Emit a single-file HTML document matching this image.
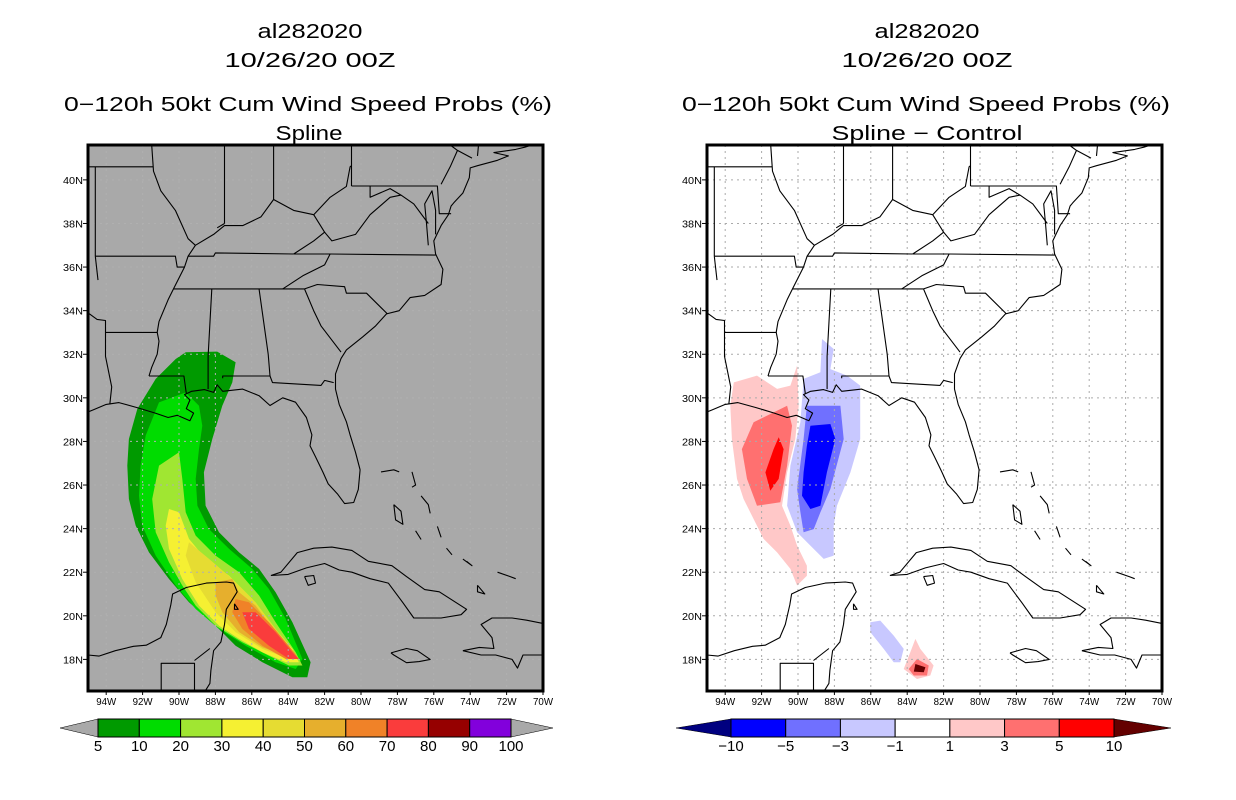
<!DOCTYPE html>
<html><head><meta charset="utf-8"><style>
html,body{margin:0;padding:0;background:#fff;}
svg{display:block;font-family:"Liberation Sans",sans-serif;}
</style></head><body>
<svg id="root" width="1236" height="800" viewBox="0 0 1236 800" xmlns="http://www.w3.org/2000/svg">
<defs>
<clipPath id="clipL"><rect x="88" y="145" width="455" height="546"/></clipPath>
<clipPath id="clipR"><rect x="707" y="145" width="455" height="546"/></clipPath>
</defs>
<g font-size="20" text-anchor="middle" fill="#000">
<text x="310" y="38" textLength="105" lengthAdjust="spacingAndGlyphs">al282020</text>
<text x="310" y="67" textLength="171" lengthAdjust="spacingAndGlyphs">10/26/20 00Z</text>
<text x="308" y="111" textLength="488" lengthAdjust="spacingAndGlyphs">0−120h 50kt Cum Wind Speed Probs (%)</text>
<text x="309" y="140" textLength="67" lengthAdjust="spacingAndGlyphs">Spline</text>
</g>
<g font-size="20" text-anchor="middle" fill="#000">
<text x="927" y="38" textLength="105" lengthAdjust="spacingAndGlyphs">al282020</text>
<text x="927" y="67" textLength="171" lengthAdjust="spacingAndGlyphs">10/26/20 00Z</text>
<text x="926" y="111" textLength="488" lengthAdjust="spacingAndGlyphs">0−120h 50kt Cum Wind Speed Probs (%)</text>
<text x="927" y="140" textLength="191" lengthAdjust="spacingAndGlyphs">Spline − Control</text>
</g>
<g id="panelL"></g>
<g id="panelR"></g>
<g id="cbarL"></g>
<g id="cbarR"></g>
</svg>
<script>
// ---- data ----
const lonTicks = [-94,-92,-90,-88,-86,-84,-82,-80,-78,-76,-74,-72,-70];
const latTicks = [18,20,22,24,26,28,30,32,34,36,38,40];
const probLevels = [5,10,20,30,40,50,60,70];
const probColors = ["#009a00","#00dc00","#a0e632","#f5f032","#e6dc32","#e6af2d","#f08228","#fa3c3c"];
const probPolys = [
 [[-89.63,32.09],[-87.90,32.12],[-86.89,31.63],[-87.07,30.71],[-87.62,29.64],[-88.17,28.11],[-88.63,26.58],[-88.54,25.05],[-87.80,23.83],[-86.70,22.91],[-85.60,22.15],[-84.69,21.08],[-83.77,19.70],[-82.77,17.87],[-82.95,17.18],[-83.77,17.18],[-85.42,17.87],[-86.89,18.63],[-87.99,19.55],[-89.45,20.62],[-90.55,21.69],[-91.65,22.91],[-92.38,24.14],[-92.75,25.36],[-92.84,26.89],[-92.75,28.11],[-92.29,29.49],[-91.28,30.87],[-90.18,31.78]],
 [[-91.10,29.79],[-89.63,30.25],[-88.90,29.64],[-88.72,28.72],[-88.90,27.65],[-89.08,26.28],[-88.99,25.05],[-88.35,23.98],[-87.25,23.07],[-85.97,22.15],[-85.06,21.23],[-84.14,19.86],[-83.22,18.02],[-83.59,17.56],[-84.69,17.87],[-86.34,18.63],[-87.80,19.40],[-89.08,20.31],[-90.18,21.39],[-91.28,22.76],[-92.02,24.14],[-92.20,25.51],[-92.11,26.89],[-91.83,28.27]],
 [[-91.10,26.89],[-90.00,27.50],[-89.82,26.28],[-89.63,24.75],[-89.08,23.68],[-87.99,22.76],[-86.70,22.00],[-85.60,20.93],[-84.69,19.70],[-83.59,18.33],[-83.22,17.72],[-83.96,17.72],[-85.06,18.17],[-86.52,18.79],[-87.99,19.55],[-89.08,20.47],[-89.82,21.39],[-90.55,22.46],[-91.28,23.83],[-91.47,25.36]],
 [[-90.55,24.90],[-90.00,24.75],[-89.45,23.53],[-88.54,22.61],[-87.25,21.84],[-85.97,20.77],[-84.87,19.55],[-83.77,18.48],[-83.41,17.87],[-84.14,17.87],[-85.42,18.33],[-86.70,18.94],[-87.80,19.55],[-88.90,20.47],[-89.82,21.69],[-90.55,23.07],[-90.73,24.14]],
 [[-89.45,23.37],[-88.35,22.61],[-87.07,21.69],[-85.79,20.62],[-84.69,19.40],[-83.59,18.17],[-83.96,18.02],[-85.42,18.48],[-86.89,19.25],[-87.99,20.16],[-89.08,21.54],[-89.63,22.76]],
 [[-87.99,21.54],[-87.07,21.69],[-86.70,21.08],[-85.79,20.47],[-84.69,19.25],[-83.59,18.25],[-83.96,18.10],[-85.42,18.56],[-86.70,19.25],[-87.62,20.16],[-87.99,20.93]],
 [[-86.89,20.77],[-86.16,20.62],[-85.06,19.70],[-83.96,18.63],[-83.41,18.02],[-84.14,18.02],[-85.42,18.63],[-86.52,19.40],[-87.07,20.16]],
 [[-86.52,20.16],[-85.79,20.16],[-84.69,19.25],[-83.77,18.33],[-83.41,18.02],[-83.96,18.02],[-85.06,18.63],[-86.16,19.40]]
];
const diffLevels = [-10,-5,-3,-1,1,3,5,10];
const diffColors = ["#0000ff","#7070ff","#c8c8ff","#ffffff","#ffc8c8","#ff7070","#ff0000"];
const diffPolyValues = [2, -2, 4, -4, 6, -6, -2, 2, 4, 12];
const diffPolys = [
 [[-93.53,30.71],[-92.25,31.02],[-91.15,30.41],[-90.42,30.56],[-90.05,31.48],[-89.96,29.64],[-90.15,28.11],[-90.60,26.58],[-90.88,25.05],[-90.42,24.14],[-90.05,23.22],[-89.51,22.30],[-89.51,21.84],[-90.05,21.39],[-90.42,22.15],[-91.15,22.91],[-91.89,23.53],[-92.44,24.44],[-92.99,25.36],[-93.35,26.28],[-93.63,28.11],[-93.72,29.64]],
 [[-88.68,32.70],[-88.04,32.24],[-88.22,31.32],[-87.31,31.02],[-86.58,30.56],[-86.58,28.11],[-87.12,26.58],[-87.86,25.05],[-88.04,24.14],[-88.04,22.76],[-88.59,22.61],[-89.32,23.22],[-90.05,23.83],[-90.60,25.05],[-90.42,26.89],[-89.87,28.88],[-89.69,30.87],[-88.77,31.17]],
 [[-92.44,28.88],[-90.60,29.64],[-90.33,28.72],[-90.60,26.89],[-90.97,25.21],[-92.25,25.05],[-92.80,26.28],[-93.08,27.65]],
 [[-89.51,29.64],[-87.67,29.64],[-87.49,28.11],[-88.22,25.82],[-88.77,24.75],[-89.14,23.98],[-89.69,23.83],[-89.87,24.75],[-90.05,25.82],[-89.69,28.11]],
 [[-91.06,28.19],[-90.79,27.65],[-91.06,26.28],[-91.52,25.74],[-91.79,26.58],[-91.34,27.65]],
 [[-89.32,28.72],[-88.22,28.80],[-87.95,28.11],[-88.41,26.58],[-88.77,25.05],[-89.32,24.90],[-89.78,25.51],[-89.69,26.58],[-89.51,27.81]],
 [[-86.03,19.70],[-85.48,19.78],[-84.74,19.09],[-84.19,18.48],[-84.38,17.87],[-84.74,17.87],[-85.29,18.48],[-86.03,19.25]],
 [[-83.55,18.94],[-83.28,18.48],[-82.55,17.72],[-82.73,17.26],[-83.46,17.10],[-84.19,17.56],[-83.83,18.33]],
 [[-83.46,18.02],[-82.82,17.72],[-82.91,17.26],[-83.64,17.26],[-83.92,17.56]],
 [[-83.55,17.79],[-83.00,17.64],[-83.09,17.41],[-83.64,17.44]]
];
const coastLines = [
 [[-95,29.35],[-94.7,29.45],[-94,29.7],[-93.3,29.78],[-92.3,29.55],[-91.3,29.3],[-90.6,29.1],[-90.1,29.2],[-89.4,28.95],[-89.2,29.3],[-89.6,29.5],[-89.4,29.9],[-89.7,30.15],[-89.3,30.3],[-88.6,30.38],[-88.1,30.25],[-87.9,30.6],[-87.6,30.3],[-86.5,30.4],[-85.6,30.1],[-85.0,29.65],[-84.3,30.0],[-83.6,29.8],[-83.0,29.1],[-82.7,28.3],[-82.8,27.8],[-82.5,27.3],[-82.1,26.6],[-81.8,26.05],[-81.3,25.6],[-80.9,25.15],[-80.4,25.2],[-80.15,25.8],[-80.05,26.7],[-80.3,27.5],[-80.6,28.3],[-80.8,28.9],[-81.2,29.7],[-81.4,30.4],[-81.4,31.1],[-81.1,31.8],[-80.8,32.2],[-79.9,32.8],[-79.2,33.3],[-78.6,33.85],[-77.9,34.0],[-77.3,34.6],[-76.5,34.7],[-75.6,35.2],[-75.5,35.9],[-75.9,36.6],[-76.0,37.2],[-75.6,37.9],[-75.2,38.4],[-75.05,38.8],[-74.9,38.95],[-74.4,39.4],[-74.05,40.1],[-74.0,40.55],[-73.6,40.65],[-72.5,40.9],[-71.9,41.1],[-72.7,41.25],[-71.5,41.4],[-71.0,41.5],[-70.6,41.6]],
 [[-76.3,37.0],[-76.4,38.0],[-76.5,38.9],[-76.1,39.5],[-75.9,38.6],[-75.9,37.5]],
 [[-95,18.2],[-94.4,18.15],[-93.5,18.4],[-92.5,18.6],[-91.8,18.65],[-91.0,19.0],[-90.7,19.6],[-90.45,20.5],[-90.35,21.0],[-89.6,21.3],[-88.5,21.5],[-87.4,21.55],[-87.0,21.5],[-86.8,21.1],[-87.4,20.3],[-87.5,19.6],[-87.7,18.8],[-88.1,18.4],[-88.25,17.5],[-88.3,16.9],[-88.6,16.5]],
 [[-84.95,21.85],[-84.4,22.0],[-83.5,22.9],[-82.6,23.1],[-81.6,23.15],[-80.5,23.0],[-79.6,22.5],[-78.3,22.3],[-77.5,21.8],[-76.5,21.2],[-75.7,21.1],[-74.2,20.3],[-74.5,20.05],[-75.6,19.9],[-77.1,19.9],[-77.7,20.6],[-78.5,21.5],[-79.5,21.7],[-80.5,22.0],[-81.2,22.1],[-82.0,22.4],[-83.0,22.2],[-84.0,21.9],[-84.95,21.85]],
 [[-83.1,21.8],[-82.6,21.85],[-82.5,21.5],[-82.9,21.4],[-83.1,21.8]],
 [[-78.35,18.3],[-77.5,18.5],[-76.9,18.4],[-76.2,18.0],[-76.8,17.9],[-77.5,17.85],[-78.2,18.2],[-78.35,18.3]],
 [[-74.4,18.4],[-73.5,18.55],[-72.7,18.5],[-72.8,19.0],[-73.4,19.6],[-72.8,19.9],[-71.7,19.9],[-70.9,19.8],[-70,19.65],[-69.3,19.2]],
 [[-69.5,18.3],[-70,18.2],[-71.1,18.2],[-71.4,17.6],[-71.7,18.0],[-72.6,18.2],[-73.4,18.2],[-74.4,18.4]],
 [[-78.9,26.6],[-78.2,26.7],[-77.9,26.6]],[[-77.2,26.6],[-77.0,26.0],[-77.2,25.9]],
 [[-78.2,25.1],[-77.8,24.8],[-77.7,24.2],[-78.1,24.4],[-78.2,25.1]],
 [[-76.7,25.5],[-76.3,25.1],[-76.2,24.7]],[[-75.8,24.1],[-75.6,23.6]],[[-77.0,23.9],[-76.7,23.5]],
 [[-75.3,23.1],[-75.0,22.8]],[[-74.4,22.6],[-73.9,22.3],[-74.2,22.5]],[[-73.6,21.4],[-73.2,21.0],[-73.6,21.1],[-73.6,21.4]],
 [[-72.5,22.0],[-71.8,21.8],[-71.5,21.7]],
 [[-86.95,20.55],[-86.75,20.3],[-86.95,20.3],[-86.95,20.55]]
];
const stateLines = [
 [[-93.8,29.7],[-93.7,30.5],[-94.04,31.9],[-94.04,33.55],[-94.5,33.6],[-95,33.9]],
 [[-94.04,33.0],[-91.2,33.0],[-91.1,33.5],[-90.6,34.5],[-90.3,35.0],[-89.7,36.0],[-89.5,36.5],[-89.1,37.0],[-89.5,37.3],[-90.2,38.6],[-91.0,39.5],[-91.4,40.4],[-91.5,41.6]],
 [[-94.6,36.5],[-94.6,40.6]],[[-95,40.6],[-91.4,40.6]],[[-94.6,36.5],[-90.2,36.5],[-90.1,36.0],[-89.7,36.0]],
 [[-94.45,35.4],[-94.6,36.5]],
 [[-91.65,31.0],[-89.73,31.0],[-89.6,30.2]],
 [[-91.65,31.0],[-91.5,31.4],[-91.2,32.0],[-91.1,32.6],[-91.2,33.0]],
 [[-88.4,30.4],[-88.4,31.9],[-88.2,35.0]],
 [[-87.6,30.9],[-87.6,31.0],[-85.0,31.0],[-84.86,30.7],[-82.2,30.57],[-82.0,30.8],[-81.5,30.7]],
 [[-85.0,31.0],[-85.1,32.0],[-85.6,34.98]],
 [[-81.1,32.1],[-82.2,33.3],[-82.6,34.0],[-83.1,34.99]],
 [[-90.3,35.0],[-88.2,35.0],[-85.6,35.0],[-84.3,35.0],[-83.1,35.0]],
 [[-78.55,33.85],[-79.7,34.8],[-80.8,34.8],[-80.9,35.1],[-82.4,35.2],[-83.1,35.0]],
 [[-84.3,35.0],[-83.2,35.6],[-82.0,36.1],[-81.7,36.6]],
 [[-75.9,36.55],[-81.7,36.6],[-83.7,36.6]],
 [[-83.7,36.6],[-88.0,36.65],[-88.1,36.5],[-89.5,36.5]],
 [[-89.1,37.0],[-88.1,37.5],[-87.5,37.9],[-86.5,37.9],[-85.5,38.3],[-84.8,39.1],[-83.7,38.6],[-82.6,38.4]],
 [[-83.7,36.6],[-82.6,37.2],[-82.0,37.6],[-82.6,38.4]],
 [[-82.0,37.6],[-81.6,37.2],[-80.3,37.5],[-79.5,38.4],[-78.4,39.2],[-77.8,39.3]],
 [[-82.6,38.4],[-81.7,39.2],[-80.8,39.7],[-80.6,40.6],[-80.52,40.65]],
 [[-80.52,39.72],[-79.5,39.72],[-79.5,39.2],[-78.4,39.6],[-77.8,39.3],[-77.1,38.9],[-76.3,38.0]],
 [[-80.52,39.72],[-75.8,39.72],[-75.7,38.45],[-75.05,38.45]],
 [[-80.52,39.72],[-80.52,42]],
 [[-75.1,41.6],[-74.7,41.35],[-75.1,40.6],[-75.6,39.8]],[[-74.7,41.35],[-73.9,41.0]],[[-73.6,41.1],[-73.5,42]],
 [[-84.8,39.1],[-84.8,41.7]],[[-87.5,38.0],[-87.5,41.7]],[[-87.9,37.8],[-87.5,38.0]],
 [[-90.98,16.5],[-90.98,17.82],[-89.15,17.82],[-89.15,16.5]],[[-89.15,17.95],[-88.3,18.5]]
];
// ---- layout helpers ----
const NS = "http://www.w3.org/2000/svg";
const FW = 455, FH = 546, LON0 = -95, LON1 = -70, LAT1 = 41.6, LAT0 = 16.55;
function xScale(x0, lon){ return x0 + (lon - LON0) / (LON1 - LON0) * FW; }
function yScale(lat){ return 145 + (LAT1 - lat) / (LAT1 - LAT0) * FH; }
function mk(tag, attrs, parent){ const e = document.createElementNS(NS, tag); for (const k in attrs) e.setAttribute(k, attrs[k]); parent.appendChild(e); return e; }
function pts(x0, arr){ return arr.map(p => xScale(x0,p[0]).toFixed(1) + "," + yScale(p[1]).toFixed(1)).join(" "); }
function diffColor(v){ if (v < diffLevels[0]) return "#000080"; if (v >= diffLevels[diffLevels.length-1]) return "#640000"; for (let i = 0; i < diffLevels.length - 1; i++) if (v >= diffLevels[i] && v < diffLevels[i+1]) return diffColors[i]; return "#fff"; }
function drawPanel(gid, x0, bg, clipId, grid){
 const g = document.getElementById(gid);
 const c = mk("g", {"clip-path": "url(#" + clipId + ")"}, g);
 const bgr = mk("rect", {x: x0, y: 145, width: FW, height: FH, fill: bg}, c);
 
 
 const fills = mk("g", {}, c);
 
 
 const gr = mk("g", {stroke: grid, "stroke-width": 1, "stroke-dasharray": "2,4", fill: "none"}, c);
 
 
 lonTicks.forEach(l => { const ln = mk("line", {x1: xScale(x0,l), x2: xScale(x0,l), y1: 145, y2: 691}, gr);   });
 latTicks.forEach(l => { const ln = mk("line", {x1: x0, x2: x0 + FW, y1: yScale(l), y2: yScale(l)}, gr);   });
 const cg = mk("g", {stroke: "#000", "stroke-width": 1.1, fill: "none", "stroke-linejoin": "round"}, c);
 
 
 coastLines.concat(stateLines).forEach(l => { const p = mk("polyline", {points: pts(x0, l)}, cg);   });
 const fr = mk("rect", {x: x0, y: 145, width: FW, height: FH, fill: "none", stroke: "#000", "stroke-width": 3}, g);
 
 
 const ax = mk("g", {"font-size": 10, fill: "#000"}, g);
 
 
 latTicks.forEach(l => {
  const t = mk("line", {x1: x0 - 5, x2: x0, y1: yScale(l), y2: yScale(l), stroke: "#000"}, ax);
   
  const tx = mk("text", {x: x0 - 5, y: yScale(l) + 4, "text-anchor": "end", textLength: 20, lengthAdjust: "spacingAndGlyphs"}, ax);
  tx.textContent = l + "N";
   
 });
 lonTicks.forEach(l => {
  const t = mk("line", {x1: xScale(x0,l), x2: xScale(x0,l), y1: 691, y2: 695, stroke: "#000"}, ax);
   
  const tx = mk("text", {x: xScale(x0,l), y: 705, "text-anchor": "middle", textLength: 20, lengthAdjust: "spacingAndGlyphs"}, ax);
  tx.textContent = (-l) + "W";
   
 });
 return fills;
}
const fL = drawPanel("panelL", 88, "#a9a9a9", "clipL", "#b0b0b0");
probPolys.forEach((poly, i) => {
 const p = mk("polygon", {points: pts(88, poly), fill: probColors[i]}, fL);
 
 
});
const fR = drawPanel("panelR", 707, "#ffffff", "clipR", "#aaaaaa");
diffPolys.forEach((poly, i) => {
 const p = mk("polygon", {points: pts(707, poly), fill: diffColor(diffPolyValues[i])}, fR);
 
 
});
// ---- colorbars ----
const cbLabelsL = ["5","10","20","30","40","50","60","70","80","90","100"];
const cbColorsL = ["#009a00","#00dc00","#a0e632","#f5f032","#e6dc32","#e6af2d","#f08228","#fa3c3c","#960000","#8200dc"];
const cbLabelsR = ["−10","−5","−3","−1","1","3","5","10"];
const cbColorsR = ["#0000ff","#7070ff","#c8c8ff","#ffffff","#ffc8c8","#ff7070","#ff0000"];
function drawBar(gid, tipL, bx0, bx1, tipR, cols, labels, cl, cr){
 const g = document.getElementById(gid);
 const y0 = 719, y1 = 737, ym = 728;
 const t1 = mk("polygon", {points: `${tipL},${ym} ${bx0},${y0} ${bx0},${y1}`, fill: cl, stroke: "#000", "stroke-width": 0.5}, g);
  
 const t2 = mk("polygon", {points: `${tipR},${ym} ${bx1},${y0} ${bx1},${y1}`, fill: cr, stroke: "#000", "stroke-width": 0.5}, g);
  
 const w = (bx1 - bx0) / cols.length;
 cols.forEach((c, i) => {
  const r = mk("rect", {x: bx0 + i * w, y: y0, width: w, height: y1 - y0, fill: c, stroke: "#000", "stroke-width": 1}, g);
   
 });
 labels.forEach((l, i) => {
  const t = mk("text", {x: bx0 + i * w, y: 751, "text-anchor": "middle", "font-size": 15}, g);
  t.textContent = l;
   
 });
}
drawBar("cbarL", 60, 98, 511, 553, cbColorsL, cbLabelsL, "#a9a9a9", "#a9a9a9");
drawBar("cbarR", 676, 731, 1114, 1171, cbColorsR, cbLabelsR, "#000080", "#640000");
</script>
</body></html>
